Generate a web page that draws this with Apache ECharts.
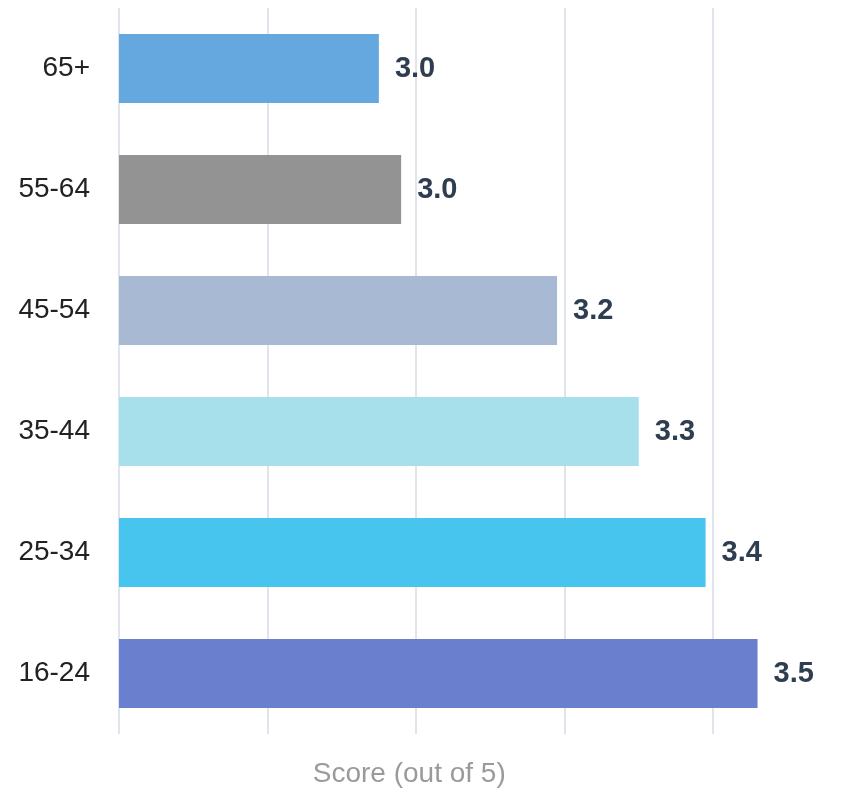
<!DOCTYPE html>
<html>
<head>
<meta charset="utf-8">
<script src="https://cdn.jsdelivr.net/npm/echarts@6/dist/echarts.min.js"></script>
<style>
  html, body { margin: 0; padding: 0; background: #ffffff; }
  #chart { width: 851px; height: 791px; }
</style>
</head>
<body>
<div id="chart"></div>
<script>
// Age groups, listed top to bottom
const ageGroups = ['65+', '55-64', '45-54', '35-44', '25-34', '16-24'];
// Average score (out of 5) per age group
const scores = [2.95, 2.98, 3.19, 3.30, 3.39, 3.46];
// Bar colour per age group
const barColors = ['#65a8df', '#939393', '#a7b9d3', '#a7dfea', '#47c5ee', '#6a7fcd'];
// Value axis range and step
const axisMin = 2.6;
const axisMax = 3.6;
const axisStep = 0.2;

const fontFamily = '"Liberation Sans", Arial, Helvetica, sans-serif';

const chart = echarts.init(document.getElementById('chart'));
chart.setOption({
  animation: false,
  grid: {
    left: 119, width: 742.5, top: 8, bottom: 57,
    containLabel: false,
    outerBoundsMode: 'none'
  },
  xAxis: {
    type: 'value',
    min: axisMin,
    max: axisMax,
    interval: axisStep,
    name: 'Score (out of 5)',
    nameLocation: 'middle',
    nameGap: 26,
    nameTextStyle: {
      color: '#9a9a9a',
      fontSize: 28,
      fontFamily: fontFamily,
      padding: [0, 162, 0, 0]
    },
    axisLine: { show: false },
    axisTick: { show: false },
    axisLabel: { show: false },
    splitLine: { show: true, lineStyle: { color: '#e0e4ec', width: 2 } }
  },
  yAxis: {
    type: 'category',
    inverse: true,
    data: ageGroups,
    axisLine: { show: false },
    axisTick: { show: false },
    axisLabel: {
      color: '#222222',
      fontSize: 28,
      fontFamily: fontFamily,
      margin: 29
    },
    splitLine: { show: false }
  },
  series: [{
    type: 'bar',
    data: scores.map((v, i) => ({ value: v, itemStyle: { color: barColors[i] } })),
    barCategoryGap: '43%',
    label: {
      show: true,
      position: 'right',
      distance: 16,
      color: '#2e3d4f',
      fontSize: 29,
      fontWeight: 'bold',
      fontFamily: fontFamily,
      formatter: p => p.value.toFixed(1)
    }
  }]
});
</script>
</body>
</html>
